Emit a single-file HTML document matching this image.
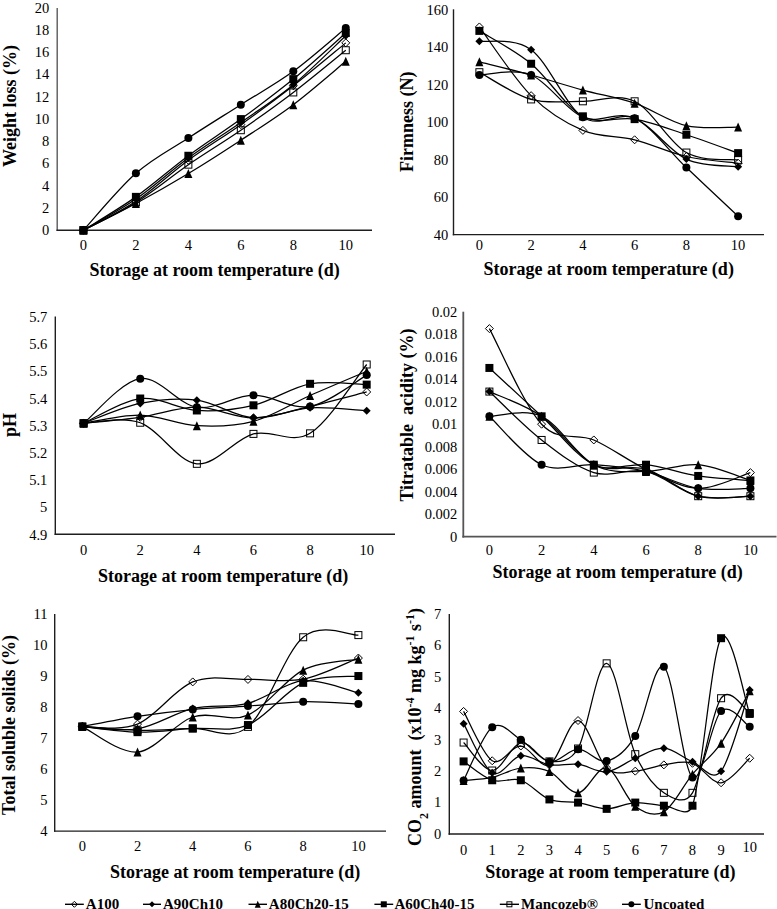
<!DOCTYPE html>
<html><head><meta charset="utf-8"><style>
html,body{margin:0;padding:0;background:#fff;}
svg{display:block;}
.tk{font-family:"Liberation Serif",serif;font-size:14.5px;fill:#000;}
.tt{font-family:"Liberation Serif",serif;font-size:18px;font-weight:bold;fill:#000;}
.lg{font-family:"Liberation Serif",serif;font-size:15px;font-weight:bold;fill:#000;}
</style></head><body>
<svg width="777" height="909" viewBox="0 0 777 909">
<rect width="777" height="909" fill="#fff"/>
<path d="M57.20,8.00 L57.20,230.90" fill="none" stroke="#5a5a5a" stroke-width="1.4"/><path d="M56.50,230.20 L372.00,230.20" fill="none" stroke="#1e1e1e" stroke-width="1.4"/>
<path d="M83.43,230.20 C92.18,225.39 118.41,212.98 135.90,201.31 C153.39,189.65 170.88,172.98 188.37,160.21 C205.86,147.43 223.34,137.06 240.83,124.66 C258.32,112.25 275.81,99.40 293.30,85.77 C310.79,72.14 337.02,50.03 345.77,42.89" fill="none" stroke="#000" stroke-width="1.25"/>
<path d="M83.43,230.20 C92.18,225.02 118.41,211.13 135.90,199.09 C153.39,187.06 170.88,170.76 188.37,157.98 C205.86,145.21 223.34,134.65 240.83,122.43 C258.32,110.21 275.81,99.10 293.30,84.66 C310.79,70.22 337.02,43.92 345.77,35.78" fill="none" stroke="#000" stroke-width="1.25"/>
<path d="M83.43,230.20 C92.18,225.76 118.41,212.98 135.90,203.54 C153.39,194.09 170.88,184.09 188.37,173.54 C205.86,162.98 223.34,151.69 240.83,140.21 C258.32,128.73 275.81,117.80 293.30,104.66 C310.79,91.51 337.02,68.55 345.77,61.33" fill="none" stroke="#000" stroke-width="1.25"/>
<path d="M83.43,230.20 C92.18,224.64 118.41,209.28 135.90,196.87 C153.39,184.46 170.88,168.72 188.37,155.76 C205.86,142.80 223.34,131.88 240.83,119.10 C258.32,106.32 275.81,93.45 293.30,79.10 C310.79,64.75 337.02,40.68 345.77,33.00" fill="none" stroke="#000" stroke-width="1.25"/>
<path d="M83.43,230.20 C92.18,225.57 118.41,213.35 135.90,202.42 C153.39,191.50 170.88,176.69 188.37,164.65 C205.86,152.62 223.34,142.25 240.83,130.21 C258.32,118.17 275.81,105.77 293.30,92.44 C310.79,79.10 337.02,57.25 345.77,50.22" fill="none" stroke="#000" stroke-width="1.25"/>
<path d="M83.43,230.20 C92.18,220.72 118.41,188.69 135.90,173.32 C153.39,157.95 170.88,149.43 188.37,137.99 C205.86,126.54 223.34,115.77 240.83,104.66 C258.32,93.55 275.81,84.10 293.30,71.33 C310.79,58.55 337.02,35.22 345.77,28.00" fill="none" stroke="#000" stroke-width="1.25"/>
<path d="M83.43,226.20 L87.43,230.20 L83.43,234.20 L79.43,230.20 Z" fill="none" stroke="#000" stroke-width="1"/>
<path d="M135.90,197.31 L139.90,201.31 L135.90,205.31 L131.90,201.31 Z" fill="none" stroke="#000" stroke-width="1"/>
<path d="M188.37,156.21 L192.37,160.21 L188.37,164.21 L184.37,160.21 Z" fill="none" stroke="#000" stroke-width="1"/>
<path d="M240.83,120.66 L244.83,124.66 L240.83,128.66 L236.83,124.66 Z" fill="none" stroke="#000" stroke-width="1"/>
<path d="M293.30,81.77 L297.30,85.77 L293.30,89.77 L289.30,85.77 Z" fill="none" stroke="#000" stroke-width="1"/>
<path d="M345.77,38.89 L349.77,42.89 L345.77,46.89 L341.77,42.89 Z" fill="none" stroke="#000" stroke-width="1"/>
<path d="M83.43,226.20 L87.43,230.20 L83.43,234.20 L79.43,230.20 Z" fill="#000"/>
<path d="M135.90,195.09 L139.90,199.09 L135.90,203.09 L131.90,199.09 Z" fill="#000"/>
<path d="M188.37,153.98 L192.37,157.98 L188.37,161.98 L184.37,157.98 Z" fill="#000"/>
<path d="M240.83,118.43 L244.83,122.43 L240.83,126.43 L236.83,122.43 Z" fill="#000"/>
<path d="M293.30,80.66 L297.30,84.66 L293.30,88.66 L289.30,84.66 Z" fill="#000"/>
<path d="M345.77,31.78 L349.77,35.78 L345.77,39.78 L341.77,35.78 Z" fill="#000"/>
<path d="M83.43,225.70 L87.43,234.70 L79.43,234.70 Z" fill="#000"/>
<path d="M135.90,199.04 L139.90,208.04 L131.90,208.04 Z" fill="#000"/>
<path d="M188.37,169.04 L192.37,178.04 L184.37,178.04 Z" fill="#000"/>
<path d="M240.83,135.71 L244.83,144.71 L236.83,144.71 Z" fill="#000"/>
<path d="M293.30,100.16 L297.30,109.16 L289.30,109.16 Z" fill="#000"/>
<path d="M345.77,56.83 L349.77,65.83 L341.77,65.83 Z" fill="#000"/>
<rect x="79.43" y="226.20" width="8.00" height="8.00" fill="#000"/>
<rect x="131.90" y="192.87" width="8.00" height="8.00" fill="#000"/>
<rect x="184.37" y="151.76" width="8.00" height="8.00" fill="#000"/>
<rect x="236.83" y="115.10" width="8.00" height="8.00" fill="#000"/>
<rect x="289.30" y="75.10" width="8.00" height="8.00" fill="#000"/>
<rect x="341.77" y="29.00" width="8.00" height="8.00" fill="#000"/>
<rect x="79.93" y="226.70" width="7.00" height="7.00" fill="none" stroke="#000" stroke-width="1"/>
<rect x="132.40" y="198.92" width="7.00" height="7.00" fill="none" stroke="#000" stroke-width="1"/>
<rect x="184.87" y="161.15" width="7.00" height="7.00" fill="none" stroke="#000" stroke-width="1"/>
<rect x="237.33" y="126.71" width="7.00" height="7.00" fill="none" stroke="#000" stroke-width="1"/>
<rect x="289.80" y="88.94" width="7.00" height="7.00" fill="none" stroke="#000" stroke-width="1"/>
<rect x="342.27" y="46.72" width="7.00" height="7.00" fill="none" stroke="#000" stroke-width="1"/>
<circle cx="83.43" cy="230.20" r="4.00" fill="#000"/>
<circle cx="135.90" cy="173.32" r="4.00" fill="#000"/>
<circle cx="188.37" cy="137.99" r="4.00" fill="#000"/>
<circle cx="240.83" cy="104.66" r="4.00" fill="#000"/>
<circle cx="293.30" cy="71.33" r="4.00" fill="#000"/>
<circle cx="345.77" cy="28.00" r="4.00" fill="#000"/>
<text x="49.20" y="235.00" text-anchor="end" class="tk">0</text>
<text x="49.20" y="212.78" text-anchor="end" class="tk">2</text>
<text x="49.20" y="190.56" text-anchor="end" class="tk">4</text>
<text x="49.20" y="168.34" text-anchor="end" class="tk">6</text>
<text x="49.20" y="146.12" text-anchor="end" class="tk">8</text>
<text x="49.20" y="123.90" text-anchor="end" class="tk">10</text>
<text x="49.20" y="101.68" text-anchor="end" class="tk">12</text>
<text x="49.20" y="79.46" text-anchor="end" class="tk">14</text>
<text x="49.20" y="57.24" text-anchor="end" class="tk">16</text>
<text x="49.20" y="35.02" text-anchor="end" class="tk">18</text>
<text x="49.20" y="12.80" text-anchor="end" class="tk">20</text>
<text x="83.43" y="249.70" text-anchor="middle" class="tk">0</text>
<text x="135.90" y="249.70" text-anchor="middle" class="tk">2</text>
<text x="188.37" y="249.70" text-anchor="middle" class="tk">4</text>
<text x="240.83" y="249.70" text-anchor="middle" class="tk">6</text>
<text x="293.30" y="249.70" text-anchor="middle" class="tk">8</text>
<text x="345.77" y="249.70" text-anchor="middle" class="tk">10</text>
<text x="214.60" y="275.50" text-anchor="middle" class="tt">Storage at room temperature (d)</text>
<text transform="translate(15.50,106.00) rotate(-90)" text-anchor="middle" class="tt">Weight loss (%)</text>
<path d="M453.50,9.30 L453.50,235.30" fill="none" stroke="#1e1e1e" stroke-width="1.4"/><path d="M452.80,234.60 L764.00,234.60" fill="none" stroke="#1e1e1e" stroke-width="1.4"/>
<path d="M479.38,26.95 C488.00,38.40 513.88,78.42 531.12,95.66 C548.38,112.91 565.62,123.05 582.88,130.40 C600.12,137.75 617.38,135.44 634.62,139.79 C651.88,144.14 669.12,152.58 686.38,156.50 C703.62,160.41 729.50,162.13 738.12,163.25" fill="none" stroke="#000" stroke-width="1.25"/>
<path d="M479.38,41.22 C488.00,42.63 513.88,36.99 531.12,49.67 C548.38,62.34 565.62,105.83 582.88,117.26 C600.12,128.68 617.38,111.22 634.62,118.19 C651.88,125.17 669.12,151.05 686.38,159.12 C703.62,167.20 729.50,165.38 738.12,166.63" fill="none" stroke="#000" stroke-width="1.25"/>
<path d="M479.38,61.87 C488.00,64.06 513.88,70.32 531.12,75.01 C548.38,79.71 565.62,85.34 582.88,90.03 C600.12,94.73 617.38,97.23 634.62,103.17 C651.88,109.12 669.12,121.73 686.38,125.70 C703.62,129.68 729.50,126.80 738.12,127.02" fill="none" stroke="#000" stroke-width="1.25"/>
<path d="M479.38,30.89 C488.00,36.37 513.88,49.51 531.12,63.75 C548.38,77.99 565.62,107.09 582.88,116.32 C600.12,125.55 617.38,116.07 634.62,119.13 C651.88,122.20 669.12,129.05 686.38,134.72 C703.62,140.38 729.50,150.05 738.12,153.12" fill="none" stroke="#000" stroke-width="1.25"/>
<path d="M479.38,72.20 C488.00,76.73 513.88,94.57 531.12,99.42 C548.38,104.27 565.62,100.98 582.88,101.30 C600.12,101.61 617.38,92.75 634.62,101.30 C651.88,109.84 669.12,142.79 686.38,152.55 C703.62,162.32 729.50,158.66 738.12,159.88" fill="none" stroke="#000" stroke-width="1.25"/>
<path d="M479.38,75.01 C488.00,75.01 513.88,67.97 531.12,75.01 C548.38,82.05 565.62,110.06 582.88,117.26 C600.12,124.45 617.38,109.81 634.62,118.19 C651.88,126.58 669.12,151.24 686.38,167.57 C703.62,183.91 729.50,208.10 738.12,216.20" fill="none" stroke="#000" stroke-width="1.25"/>
<path d="M479.38,22.95 L483.38,26.95 L479.38,30.95 L475.38,26.95 Z" fill="none" stroke="#000" stroke-width="1"/>
<path d="M531.12,91.66 L535.12,95.66 L531.12,99.66 L527.12,95.66 Z" fill="none" stroke="#000" stroke-width="1"/>
<path d="M582.88,126.40 L586.88,130.40 L582.88,134.40 L578.88,130.40 Z" fill="none" stroke="#000" stroke-width="1"/>
<path d="M634.62,135.79 L638.62,139.79 L634.62,143.79 L630.62,139.79 Z" fill="none" stroke="#000" stroke-width="1"/>
<path d="M686.38,152.50 L690.38,156.50 L686.38,160.50 L682.38,156.50 Z" fill="none" stroke="#000" stroke-width="1"/>
<path d="M738.12,159.25 L742.12,163.25 L738.12,167.25 L734.12,163.25 Z" fill="none" stroke="#000" stroke-width="1"/>
<path d="M479.38,37.22 L483.38,41.22 L479.38,45.22 L475.38,41.22 Z" fill="#000"/>
<path d="M531.12,45.67 L535.12,49.67 L531.12,53.67 L527.12,49.67 Z" fill="#000"/>
<path d="M582.88,113.26 L586.88,117.26 L582.88,121.26 L578.88,117.26 Z" fill="#000"/>
<path d="M634.62,114.19 L638.62,118.19 L634.62,122.19 L630.62,118.19 Z" fill="#000"/>
<path d="M686.38,155.12 L690.38,159.12 L686.38,163.12 L682.38,159.12 Z" fill="#000"/>
<path d="M738.12,162.63 L742.12,166.63 L738.12,170.63 L734.12,166.63 Z" fill="#000"/>
<path d="M479.38,57.37 L483.38,66.37 L475.38,66.37 Z" fill="#000"/>
<path d="M531.12,70.51 L535.12,79.51 L527.12,79.51 Z" fill="#000"/>
<path d="M582.88,85.53 L586.88,94.53 L578.88,94.53 Z" fill="#000"/>
<path d="M634.62,98.67 L638.62,107.67 L630.62,107.67 Z" fill="#000"/>
<path d="M686.38,121.20 L690.38,130.20 L682.38,130.20 Z" fill="#000"/>
<path d="M738.12,122.52 L742.12,131.52 L734.12,131.52 Z" fill="#000"/>
<rect x="475.38" y="26.89" width="8.00" height="8.00" fill="#000"/>
<rect x="527.12" y="59.75" width="8.00" height="8.00" fill="#000"/>
<rect x="578.88" y="112.32" width="8.00" height="8.00" fill="#000"/>
<rect x="630.62" y="115.13" width="8.00" height="8.00" fill="#000"/>
<rect x="682.38" y="130.72" width="8.00" height="8.00" fill="#000"/>
<rect x="734.12" y="149.12" width="8.00" height="8.00" fill="#000"/>
<rect x="475.88" y="68.70" width="7.00" height="7.00" fill="none" stroke="#000" stroke-width="1"/>
<rect x="527.62" y="95.92" width="7.00" height="7.00" fill="none" stroke="#000" stroke-width="1"/>
<rect x="579.38" y="97.80" width="7.00" height="7.00" fill="none" stroke="#000" stroke-width="1"/>
<rect x="631.12" y="97.80" width="7.00" height="7.00" fill="none" stroke="#000" stroke-width="1"/>
<rect x="682.88" y="149.05" width="7.00" height="7.00" fill="none" stroke="#000" stroke-width="1"/>
<rect x="734.62" y="156.38" width="7.00" height="7.00" fill="none" stroke="#000" stroke-width="1"/>
<circle cx="479.38" cy="75.01" r="4.00" fill="#000"/>
<circle cx="531.12" cy="75.01" r="4.00" fill="#000"/>
<circle cx="582.88" cy="117.26" r="4.00" fill="#000"/>
<circle cx="634.62" cy="118.19" r="4.00" fill="#000"/>
<circle cx="686.38" cy="167.57" r="4.00" fill="#000"/>
<circle cx="738.12" cy="216.20" r="4.00" fill="#000"/>
<text x="448.20" y="239.90" text-anchor="end" class="tk">40</text>
<text x="448.20" y="202.35" text-anchor="end" class="tk">60</text>
<text x="448.20" y="164.80" text-anchor="end" class="tk">80</text>
<text x="448.20" y="127.25" text-anchor="end" class="tk">100</text>
<text x="448.20" y="89.70" text-anchor="end" class="tk">120</text>
<text x="448.20" y="52.15" text-anchor="end" class="tk">140</text>
<text x="448.20" y="14.60" text-anchor="end" class="tk">160</text>
<text x="479.38" y="250.10" text-anchor="middle" class="tk">0</text>
<text x="531.12" y="250.10" text-anchor="middle" class="tk">2</text>
<text x="582.88" y="250.10" text-anchor="middle" class="tk">4</text>
<text x="634.62" y="250.10" text-anchor="middle" class="tk">6</text>
<text x="686.38" y="250.10" text-anchor="middle" class="tk">8</text>
<text x="738.12" y="250.10" text-anchor="middle" class="tk">10</text>
<text x="608.75" y="274.80" text-anchor="middle" class="tt">Storage at room temperature (d)</text>
<text transform="translate(413.00,121.70) rotate(-90)" text-anchor="middle" class="tt">Firmness (N)</text>
<path d="M55.30,316.60 L55.30,535.00" fill="none" stroke="#1e1e1e" stroke-width="1.4"/><path d="M54.60,534.30 L395.00,534.30" fill="none" stroke="#1e1e1e" stroke-width="1.4"/>
<path d="M83.61,423.27 C93.04,422.28 121.35,419.96 140.22,417.29 C159.10,414.61 177.97,407.13 196.84,407.22 C215.71,407.31 234.59,417.97 253.46,417.83 C272.33,417.69 291.20,410.71 310.07,406.40 C328.95,402.09 357.26,394.38 366.69,391.98" fill="none" stroke="#000" stroke-width="1.25"/>
<path d="M83.61,423.27 C93.04,419.96 121.35,407.26 140.22,403.41 C159.10,399.55 177.97,397.74 196.84,400.14 C215.71,402.55 234.59,416.56 253.46,417.83 C272.33,419.10 291.20,408.94 310.07,407.76 C328.95,406.58 357.26,410.26 366.69,410.76" fill="none" stroke="#000" stroke-width="1.25"/>
<path d="M83.61,423.27 C93.04,421.91 121.35,414.70 140.22,415.11 C159.10,415.52 177.97,424.68 196.84,425.72 C215.71,426.77 234.59,426.40 253.46,421.37 C272.33,416.33 291.20,403.86 310.07,395.52 C328.95,387.17 357.26,375.33 366.69,371.30" fill="none" stroke="#000" stroke-width="1.25"/>
<path d="M83.61,423.27 C93.04,419.15 121.35,400.64 140.22,398.51 C159.10,396.38 177.97,409.35 196.84,410.48 C215.71,411.62 234.59,409.76 253.46,405.31 C272.33,400.87 291.20,387.26 310.07,383.81 C328.95,380.37 357.26,384.50 366.69,384.63" fill="none" stroke="#000" stroke-width="1.25"/>
<path d="M83.61,423.27 C93.04,423.18 121.35,415.97 140.22,422.73 C159.10,429.49 177.97,461.96 196.84,463.82 C215.71,465.68 234.59,438.97 253.46,433.89 C272.33,428.81 291.20,444.91 310.07,433.34 C328.95,421.78 357.26,375.97 366.69,364.49" fill="none" stroke="#000" stroke-width="1.25"/>
<path d="M83.61,423.27 C93.04,415.83 121.35,381.32 140.22,378.64 C159.10,375.97 177.97,404.45 196.84,407.22 C215.71,409.98 234.59,395.38 253.46,395.24 C272.33,395.11 291.20,409.76 310.07,406.40 C328.95,403.05 357.26,380.32 366.69,375.11" fill="none" stroke="#000" stroke-width="1.25"/>
<path d="M83.61,419.27 L87.61,423.27 L83.61,427.27 L79.61,423.27 Z" fill="none" stroke="#000" stroke-width="1"/>
<path d="M140.22,413.29 L144.22,417.29 L140.22,421.29 L136.22,417.29 Z" fill="none" stroke="#000" stroke-width="1"/>
<path d="M196.84,403.22 L200.84,407.22 L196.84,411.22 L192.84,407.22 Z" fill="none" stroke="#000" stroke-width="1"/>
<path d="M253.46,413.83 L257.46,417.83 L253.46,421.83 L249.46,417.83 Z" fill="none" stroke="#000" stroke-width="1"/>
<path d="M310.07,402.40 L314.07,406.40 L310.07,410.40 L306.07,406.40 Z" fill="none" stroke="#000" stroke-width="1"/>
<path d="M366.69,387.98 L370.69,391.98 L366.69,395.98 L362.69,391.98 Z" fill="none" stroke="#000" stroke-width="1"/>
<path d="M83.61,419.27 L87.61,423.27 L83.61,427.27 L79.61,423.27 Z" fill="#000"/>
<path d="M140.22,399.41 L144.22,403.41 L140.22,407.41 L136.22,403.41 Z" fill="#000"/>
<path d="M196.84,396.14 L200.84,400.14 L196.84,404.14 L192.84,400.14 Z" fill="#000"/>
<path d="M253.46,413.83 L257.46,417.83 L253.46,421.83 L249.46,417.83 Z" fill="#000"/>
<path d="M310.07,403.76 L314.07,407.76 L310.07,411.76 L306.07,407.76 Z" fill="#000"/>
<path d="M366.69,406.76 L370.69,410.76 L366.69,414.76 L362.69,410.76 Z" fill="#000"/>
<path d="M83.61,418.77 L87.61,427.77 L79.61,427.77 Z" fill="#000"/>
<path d="M140.22,410.61 L144.22,419.61 L136.22,419.61 Z" fill="#000"/>
<path d="M196.84,421.22 L200.84,430.22 L192.84,430.22 Z" fill="#000"/>
<path d="M253.46,416.87 L257.46,425.87 L249.46,425.87 Z" fill="#000"/>
<path d="M310.07,391.02 L314.07,400.02 L306.07,400.02 Z" fill="#000"/>
<path d="M366.69,366.80 L370.69,375.80 L362.69,375.80 Z" fill="#000"/>
<rect x="79.61" y="419.27" width="8.00" height="8.00" fill="#000"/>
<rect x="136.22" y="394.51" width="8.00" height="8.00" fill="#000"/>
<rect x="192.84" y="406.48" width="8.00" height="8.00" fill="#000"/>
<rect x="249.46" y="401.31" width="8.00" height="8.00" fill="#000"/>
<rect x="306.07" y="379.81" width="8.00" height="8.00" fill="#000"/>
<rect x="362.69" y="380.63" width="8.00" height="8.00" fill="#000"/>
<rect x="80.11" y="419.77" width="7.00" height="7.00" fill="none" stroke="#000" stroke-width="1"/>
<rect x="136.72" y="419.23" width="7.00" height="7.00" fill="none" stroke="#000" stroke-width="1"/>
<rect x="193.34" y="460.32" width="7.00" height="7.00" fill="none" stroke="#000" stroke-width="1"/>
<rect x="249.96" y="430.39" width="7.00" height="7.00" fill="none" stroke="#000" stroke-width="1"/>
<rect x="306.57" y="429.84" width="7.00" height="7.00" fill="none" stroke="#000" stroke-width="1"/>
<rect x="363.19" y="360.99" width="7.00" height="7.00" fill="none" stroke="#000" stroke-width="1"/>
<circle cx="83.61" cy="423.27" r="4.00" fill="#000"/>
<circle cx="140.22" cy="378.64" r="4.00" fill="#000"/>
<circle cx="196.84" cy="407.22" r="4.00" fill="#000"/>
<circle cx="253.46" cy="395.24" r="4.00" fill="#000"/>
<circle cx="310.07" cy="406.40" r="4.00" fill="#000"/>
<circle cx="366.69" cy="375.11" r="4.00" fill="#000"/>
<text x="47.30" y="539.60" text-anchor="end" class="tk">4.9</text>
<text x="47.30" y="512.39" text-anchor="end" class="tk">5</text>
<text x="47.30" y="485.17" text-anchor="end" class="tk">5.1</text>
<text x="47.30" y="457.96" text-anchor="end" class="tk">5.2</text>
<text x="47.30" y="430.75" text-anchor="end" class="tk">5.3</text>
<text x="47.30" y="403.54" text-anchor="end" class="tk">5.4</text>
<text x="47.30" y="376.33" text-anchor="end" class="tk">5.5</text>
<text x="47.30" y="349.11" text-anchor="end" class="tk">5.6</text>
<text x="47.30" y="321.90" text-anchor="end" class="tk">5.7</text>
<text x="83.61" y="554.60" text-anchor="middle" class="tk">0</text>
<text x="140.22" y="554.60" text-anchor="middle" class="tk">2</text>
<text x="196.84" y="554.60" text-anchor="middle" class="tk">4</text>
<text x="253.46" y="554.60" text-anchor="middle" class="tk">6</text>
<text x="310.07" y="554.60" text-anchor="middle" class="tk">8</text>
<text x="366.69" y="554.60" text-anchor="middle" class="tk">10</text>
<text x="223.15" y="582.00" text-anchor="middle" class="tt">Storage at room temperature (d)</text>
<text transform="translate(15.50,425.00) rotate(-90)" text-anchor="middle" class="tt">pH</text>
<path d="M463.30,311.70 L463.30,537.60" fill="none" stroke="#555" stroke-width="1.8"/><path d="M462.40,536.70 L776.50,536.70" fill="none" stroke="#555" stroke-width="1.8"/>
<path d="M489.40,328.58 C498.10,344.51 524.20,405.64 541.60,424.20 C559.00,442.76 576.40,432.45 593.80,439.95 C611.20,447.45 628.60,461.14 646.00,469.20 C663.40,477.26 680.80,487.76 698.20,488.33 C715.60,488.89 741.70,475.20 750.40,472.58" fill="none" stroke="#000" stroke-width="1.25"/>
<path d="M489.40,391.58 C498.10,395.70 524.20,404.14 541.60,416.33 C559.00,428.51 576.40,455.89 593.80,464.70 C611.20,473.51 628.60,463.95 646.00,469.20 C663.40,474.45 680.80,491.70 698.20,496.20 C715.60,500.70 741.70,496.20 750.40,496.20" fill="none" stroke="#000" stroke-width="1.25"/>
<path d="M489.40,416.33 C498.10,416.33 524.20,408.26 541.60,416.33 C559.00,424.39 576.40,455.51 593.80,464.70 C611.20,473.89 628.60,471.45 646.00,471.45 C663.40,471.45 680.80,463.20 698.20,464.70 C715.60,466.20 741.70,477.83 750.40,480.45" fill="none" stroke="#000" stroke-width="1.25"/>
<path d="M489.40,367.95 C498.10,376.01 524.20,400.20 541.60,416.33 C559.00,432.45 576.40,456.64 593.80,464.70 C611.20,472.76 628.60,462.83 646.00,464.70 C663.40,466.58 680.80,473.33 698.20,475.95 C715.60,478.58 741.70,479.70 750.40,480.45" fill="none" stroke="#000" stroke-width="1.25"/>
<path d="M489.40,391.58 C498.10,399.64 524.20,426.45 541.60,439.95 C559.00,453.45 576.40,467.33 593.80,472.58 C611.20,477.83 628.60,467.51 646.00,471.45 C663.40,475.39 680.80,492.08 698.20,496.20 C715.60,500.33 741.70,496.20 750.40,496.20" fill="none" stroke="#000" stroke-width="1.25"/>
<path d="M489.40,416.33 C498.10,424.39 524.20,456.64 541.60,464.70 C559.00,472.76 576.40,463.58 593.80,464.70 C611.20,465.83 628.60,467.51 646.00,471.45 C663.40,475.39 680.80,485.51 698.20,488.33 C715.60,491.14 741.70,488.33 750.40,488.33" fill="none" stroke="#000" stroke-width="1.25"/>
<path d="M489.40,324.58 L493.40,328.58 L489.40,332.58 L485.40,328.58 Z" fill="none" stroke="#000" stroke-width="1"/>
<path d="M541.60,420.20 L545.60,424.20 L541.60,428.20 L537.60,424.20 Z" fill="none" stroke="#000" stroke-width="1"/>
<path d="M593.80,435.95 L597.80,439.95 L593.80,443.95 L589.80,439.95 Z" fill="none" stroke="#000" stroke-width="1"/>
<path d="M646.00,465.20 L650.00,469.20 L646.00,473.20 L642.00,469.20 Z" fill="none" stroke="#000" stroke-width="1"/>
<path d="M698.20,484.33 L702.20,488.33 L698.20,492.33 L694.20,488.33 Z" fill="none" stroke="#000" stroke-width="1"/>
<path d="M750.40,468.58 L754.40,472.58 L750.40,476.58 L746.40,472.58 Z" fill="none" stroke="#000" stroke-width="1"/>
<path d="M489.40,387.58 L493.40,391.58 L489.40,395.58 L485.40,391.58 Z" fill="#000"/>
<path d="M541.60,412.33 L545.60,416.33 L541.60,420.33 L537.60,416.33 Z" fill="#000"/>
<path d="M593.80,460.70 L597.80,464.70 L593.80,468.70 L589.80,464.70 Z" fill="#000"/>
<path d="M646.00,465.20 L650.00,469.20 L646.00,473.20 L642.00,469.20 Z" fill="#000"/>
<path d="M698.20,492.20 L702.20,496.20 L698.20,500.20 L694.20,496.20 Z" fill="#000"/>
<path d="M750.40,492.20 L754.40,496.20 L750.40,500.20 L746.40,496.20 Z" fill="#000"/>
<path d="M489.40,411.83 L493.40,420.83 L485.40,420.83 Z" fill="#000"/>
<path d="M541.60,411.83 L545.60,420.83 L537.60,420.83 Z" fill="#000"/>
<path d="M593.80,460.20 L597.80,469.20 L589.80,469.20 Z" fill="#000"/>
<path d="M646.00,466.95 L650.00,475.95 L642.00,475.95 Z" fill="#000"/>
<path d="M698.20,460.20 L702.20,469.20 L694.20,469.20 Z" fill="#000"/>
<path d="M750.40,475.95 L754.40,484.95 L746.40,484.95 Z" fill="#000"/>
<rect x="485.40" y="363.95" width="8.00" height="8.00" fill="#000"/>
<rect x="537.60" y="412.33" width="8.00" height="8.00" fill="#000"/>
<rect x="589.80" y="460.70" width="8.00" height="8.00" fill="#000"/>
<rect x="642.00" y="460.70" width="8.00" height="8.00" fill="#000"/>
<rect x="694.20" y="471.95" width="8.00" height="8.00" fill="#000"/>
<rect x="746.40" y="476.45" width="8.00" height="8.00" fill="#000"/>
<rect x="485.90" y="388.08" width="7.00" height="7.00" fill="none" stroke="#000" stroke-width="1"/>
<rect x="538.10" y="436.45" width="7.00" height="7.00" fill="none" stroke="#000" stroke-width="1"/>
<rect x="590.30" y="469.08" width="7.00" height="7.00" fill="none" stroke="#000" stroke-width="1"/>
<rect x="642.50" y="467.95" width="7.00" height="7.00" fill="none" stroke="#000" stroke-width="1"/>
<rect x="694.70" y="492.70" width="7.00" height="7.00" fill="none" stroke="#000" stroke-width="1"/>
<rect x="746.90" y="492.70" width="7.00" height="7.00" fill="none" stroke="#000" stroke-width="1"/>
<circle cx="489.40" cy="416.33" r="4.00" fill="#000"/>
<circle cx="541.60" cy="464.70" r="4.00" fill="#000"/>
<circle cx="593.80" cy="464.70" r="4.00" fill="#000"/>
<circle cx="646.00" cy="471.45" r="4.00" fill="#000"/>
<circle cx="698.20" cy="488.33" r="4.00" fill="#000"/>
<circle cx="750.40" cy="488.33" r="4.00" fill="#000"/>
<text x="457.30" y="541.50" text-anchor="end" class="tk">0</text>
<text x="457.30" y="519.00" text-anchor="end" class="tk">0.002</text>
<text x="457.30" y="496.50" text-anchor="end" class="tk">0.004</text>
<text x="457.30" y="474.00" text-anchor="end" class="tk">0.006</text>
<text x="457.30" y="451.50" text-anchor="end" class="tk">0.008</text>
<text x="457.30" y="429.00" text-anchor="end" class="tk">0.01</text>
<text x="457.30" y="406.50" text-anchor="end" class="tk">0.012</text>
<text x="457.30" y="384.00" text-anchor="end" class="tk">0.014</text>
<text x="457.30" y="361.50" text-anchor="end" class="tk">0.016</text>
<text x="457.30" y="339.00" text-anchor="end" class="tk">0.018</text>
<text x="457.30" y="316.50" text-anchor="end" class="tk">0.02</text>
<text x="489.40" y="554.50" text-anchor="middle" class="tk">0</text>
<text x="541.60" y="554.50" text-anchor="middle" class="tk">2</text>
<text x="593.80" y="554.50" text-anchor="middle" class="tk">4</text>
<text x="646.00" y="554.50" text-anchor="middle" class="tk">6</text>
<text x="698.20" y="554.50" text-anchor="middle" class="tk">8</text>
<text x="750.40" y="554.50" text-anchor="middle" class="tk">10</text>
<text x="617.60" y="578.20" text-anchor="middle" class="tt">Storage at room temperature (d)</text>
<text transform="translate(413.00,415.00) rotate(-90)" text-anchor="middle" class="tt">Titratable&#160; acidity (%)</text>
<path d="M54.70,614.00 L54.70,831.80" fill="none" stroke="#1e1e1e" stroke-width="1.4"/><path d="M54.00,831.10 L386.00,831.10" fill="none" stroke="#1e1e1e" stroke-width="1.4"/>
<path d="M82.31,726.58 C91.51,726.17 119.12,731.54 137.53,724.10 C155.93,716.66 174.34,689.36 192.74,681.92 C211.15,674.48 229.55,679.91 247.96,679.44 C266.36,678.97 284.77,682.70 303.18,679.13 C321.58,675.56 349.19,661.56 358.39,658.04" fill="none" stroke="#000" stroke-width="1.25"/>
<path d="M82.31,726.58 C91.51,726.94 119.12,731.75 137.53,728.75 C155.93,725.75 174.34,712.83 192.74,708.59 C211.15,704.35 229.55,707.97 247.96,703.32 C266.36,698.67 284.77,682.44 303.18,680.68 C321.58,678.92 349.19,690.76 358.39,692.78" fill="none" stroke="#000" stroke-width="1.25"/>
<path d="M82.31,726.58 C91.51,730.82 119.12,753.62 137.53,752.01 C155.93,750.41 174.34,723.12 192.74,716.97 C211.15,710.82 229.55,722.91 247.96,715.11 C266.36,707.30 284.77,679.44 303.18,670.14 C321.58,660.83 349.19,661.09 358.39,659.28" fill="none" stroke="#000" stroke-width="1.25"/>
<path d="M82.31,726.58 C91.51,727.51 119.12,731.85 137.53,732.16 C155.93,732.47 174.34,729.63 192.74,728.44 C211.15,727.25 229.55,732.63 247.96,725.03 C266.36,717.43 284.77,691.02 303.18,682.85 C321.58,674.68 349.19,677.17 358.39,676.03" fill="none" stroke="#000" stroke-width="1.25"/>
<path d="M82.31,726.58 C91.51,727.20 119.12,729.99 137.53,730.30 C155.93,730.61 174.34,729.01 192.74,728.44 C211.15,727.87 229.55,742.09 247.96,726.89 C266.36,711.70 284.77,652.56 303.18,637.26 C321.58,621.96 349.19,635.45 358.39,635.09" fill="none" stroke="#000" stroke-width="1.25"/>
<path d="M82.31,726.58 C91.51,724.88 119.12,719.19 137.53,716.35 C155.93,713.50 174.34,711.23 192.74,709.52 C211.15,707.82 229.55,707.40 247.96,706.11 C266.36,704.82 284.77,702.13 303.18,701.77 C321.58,701.41 349.19,703.58 358.39,703.94" fill="none" stroke="#000" stroke-width="1.25"/>
<path d="M82.31,722.58 L86.31,726.58 L82.31,730.58 L78.31,726.58 Z" fill="none" stroke="#000" stroke-width="1"/>
<path d="M137.53,720.10 L141.53,724.10 L137.53,728.10 L133.53,724.10 Z" fill="none" stroke="#000" stroke-width="1"/>
<path d="M192.74,677.92 L196.74,681.92 L192.74,685.92 L188.74,681.92 Z" fill="none" stroke="#000" stroke-width="1"/>
<path d="M247.96,675.44 L251.96,679.44 L247.96,683.44 L243.96,679.44 Z" fill="none" stroke="#000" stroke-width="1"/>
<path d="M303.18,675.13 L307.18,679.13 L303.18,683.13 L299.18,679.13 Z" fill="none" stroke="#000" stroke-width="1"/>
<path d="M358.39,654.04 L362.39,658.04 L358.39,662.04 L354.39,658.04 Z" fill="none" stroke="#000" stroke-width="1"/>
<path d="M82.31,722.58 L86.31,726.58 L82.31,730.58 L78.31,726.58 Z" fill="#000"/>
<path d="M137.53,724.75 L141.53,728.75 L137.53,732.75 L133.53,728.75 Z" fill="#000"/>
<path d="M192.74,704.59 L196.74,708.59 L192.74,712.59 L188.74,708.59 Z" fill="#000"/>
<path d="M247.96,699.32 L251.96,703.32 L247.96,707.32 L243.96,703.32 Z" fill="#000"/>
<path d="M303.18,676.68 L307.18,680.68 L303.18,684.68 L299.18,680.68 Z" fill="#000"/>
<path d="M358.39,688.78 L362.39,692.78 L358.39,696.78 L354.39,692.78 Z" fill="#000"/>
<path d="M82.31,722.08 L86.31,731.08 L78.31,731.08 Z" fill="#000"/>
<path d="M137.53,747.51 L141.53,756.51 L133.53,756.51 Z" fill="#000"/>
<path d="M192.74,712.47 L196.74,721.47 L188.74,721.47 Z" fill="#000"/>
<path d="M247.96,710.61 L251.96,719.61 L243.96,719.61 Z" fill="#000"/>
<path d="M303.18,665.64 L307.18,674.64 L299.18,674.64 Z" fill="#000"/>
<path d="M358.39,654.78 L362.39,663.78 L354.39,663.78 Z" fill="#000"/>
<rect x="78.31" y="722.58" width="8.00" height="8.00" fill="#000"/>
<rect x="133.53" y="728.16" width="8.00" height="8.00" fill="#000"/>
<rect x="188.74" y="724.44" width="8.00" height="8.00" fill="#000"/>
<rect x="243.96" y="721.03" width="8.00" height="8.00" fill="#000"/>
<rect x="299.18" y="678.85" width="8.00" height="8.00" fill="#000"/>
<rect x="354.39" y="672.03" width="8.00" height="8.00" fill="#000"/>
<rect x="78.81" y="723.08" width="7.00" height="7.00" fill="none" stroke="#000" stroke-width="1"/>
<rect x="134.03" y="726.80" width="7.00" height="7.00" fill="none" stroke="#000" stroke-width="1"/>
<rect x="189.24" y="724.94" width="7.00" height="7.00" fill="none" stroke="#000" stroke-width="1"/>
<rect x="244.46" y="723.39" width="7.00" height="7.00" fill="none" stroke="#000" stroke-width="1"/>
<rect x="299.68" y="633.76" width="7.00" height="7.00" fill="none" stroke="#000" stroke-width="1"/>
<rect x="354.89" y="631.59" width="7.00" height="7.00" fill="none" stroke="#000" stroke-width="1"/>
<circle cx="82.31" cy="726.58" r="4.00" fill="#000"/>
<circle cx="137.53" cy="716.35" r="4.00" fill="#000"/>
<circle cx="192.74" cy="709.52" r="4.00" fill="#000"/>
<circle cx="247.96" cy="706.11" r="4.00" fill="#000"/>
<circle cx="303.18" cy="701.77" r="4.00" fill="#000"/>
<circle cx="358.39" cy="703.94" r="4.00" fill="#000"/>
<text x="47.40" y="835.90" text-anchor="end" class="tk">4</text>
<text x="47.40" y="804.89" text-anchor="end" class="tk">5</text>
<text x="47.40" y="773.87" text-anchor="end" class="tk">6</text>
<text x="47.40" y="742.86" text-anchor="end" class="tk">7</text>
<text x="47.40" y="711.84" text-anchor="end" class="tk">8</text>
<text x="47.40" y="680.83" text-anchor="end" class="tk">9</text>
<text x="47.40" y="649.81" text-anchor="end" class="tk">10</text>
<text x="47.40" y="618.80" text-anchor="end" class="tk">11</text>
<text x="82.31" y="851.10" text-anchor="middle" class="tk">0</text>
<text x="137.53" y="851.10" text-anchor="middle" class="tk">2</text>
<text x="192.74" y="851.10" text-anchor="middle" class="tk">4</text>
<text x="247.96" y="851.10" text-anchor="middle" class="tk">6</text>
<text x="303.18" y="851.10" text-anchor="middle" class="tk">8</text>
<text x="358.39" y="851.10" text-anchor="middle" class="tk">10</text>
<text x="235.15" y="877.60" text-anchor="middle" class="tt">Storage at room temperature (d)</text>
<text transform="translate(15.20,725.00) rotate(-90)" text-anchor="middle" class="tt">Total soluble solids (%)</text>
<path d="M449.30,614.00 L449.30,834.70" fill="none" stroke="#1e1e1e" stroke-width="1.4"/><path d="M448.60,834.00 L764.00,834.00" fill="none" stroke="#1e1e1e" stroke-width="1.4"/>
<path d="M463.60,711.43 C468.37,719.65 482.68,755.01 492.21,760.77 C501.75,766.53 511.29,745.32 520.82,746.00 C530.36,746.68 539.90,769.10 549.43,764.86 C558.97,760.61 568.50,720.02 578.04,720.54 C587.58,721.07 597.11,759.57 606.65,768.00 C616.19,776.43 625.72,771.67 635.26,771.14 C644.80,770.62 654.33,766.17 663.87,764.86 C673.40,763.55 682.94,760.30 692.48,763.29 C702.01,766.27 711.55,783.61 721.09,782.77 C730.62,781.93 744.93,762.34 749.70,758.26" fill="none" stroke="#000" stroke-width="1.25"/>
<path d="M463.60,723.69 C468.37,731.86 482.68,767.37 492.21,772.71 C501.75,778.06 511.29,757.05 520.82,755.74 C530.36,754.43 539.90,763.44 549.43,764.86 C558.97,766.27 568.50,763.08 578.04,764.23 C587.58,765.38 597.11,772.77 606.65,771.77 C616.19,770.78 625.72,762.19 635.26,758.26 C644.80,754.33 654.33,747.62 663.87,748.20 C673.40,748.78 682.94,757.89 692.48,761.71 C702.01,765.54 711.69,782.91 721.09,771.14 C730.62,759.20 744.93,703.57 749.70,690.06" fill="none" stroke="#000" stroke-width="1.25"/>
<path d="M463.60,780.57 C468.37,780.05 482.68,779.52 492.21,777.43 C501.75,775.33 511.29,769.00 520.82,768.00 C530.36,767.00 539.90,767.32 549.43,771.46 C558.97,775.60 568.50,793.40 578.04,792.83 C587.58,792.25 597.11,765.75 606.65,768.00 C616.19,770.25 625.72,799.06 635.26,806.34 C644.80,813.62 654.33,817.03 663.87,811.69 C673.40,806.34 682.94,785.70 692.48,774.29 C702.01,762.87 711.55,757.10 721.09,743.17 C730.62,729.24 744.93,699.43 749.70,690.69" fill="none" stroke="#000" stroke-width="1.25"/>
<path d="M463.60,761.40 C468.37,764.54 482.68,777.11 492.21,780.26 C501.75,783.40 511.29,777.06 520.82,780.26 C530.36,783.45 539.90,795.71 549.43,799.43 C558.97,803.15 568.50,801.00 578.04,802.57 C587.58,804.14 597.11,808.86 606.65,808.86 C616.19,808.86 625.72,803.10 635.26,802.57 C644.80,802.05 654.33,805.19 663.87,805.71 C673.40,806.24 687.85,819.25 692.48,805.71 C702.01,777.80 711.55,653.50 721.09,638.20 C730.62,622.90 744.93,701.32 749.70,713.94" fill="none" stroke="#000" stroke-width="1.25"/>
<path d="M463.60,742.54 C468.37,747.20 482.68,770.46 492.21,770.51 C501.75,770.57 511.29,744.38 520.82,742.86 C530.36,741.34 539.90,760.46 549.43,761.40 C558.97,762.34 570.13,762.06 578.04,748.51 C587.58,732.17 597.11,662.40 606.65,663.34 C616.19,664.29 625.72,732.59 635.26,754.17 C644.80,775.75 654.33,786.39 663.87,792.83 C673.40,799.27 685.07,805.07 692.48,792.83 C702.01,777.06 711.55,711.53 721.09,698.23 C730.47,685.14 744.93,710.54 749.70,713.00" fill="none" stroke="#000" stroke-width="1.25"/>
<path d="M463.60,780.57 C468.37,771.67 482.68,733.95 492.21,727.14 C501.75,720.33 511.29,733.95 520.82,739.71 C530.36,745.48 539.90,760.14 549.43,761.71 C558.97,763.29 568.50,749.25 578.04,749.14 C587.58,749.04 597.11,763.29 606.65,761.09 C616.19,758.89 625.72,751.66 635.26,735.94 C644.80,720.23 654.33,659.89 663.87,666.80 C673.40,673.71 682.94,770.04 692.48,777.43 C702.01,784.81 711.55,719.55 721.09,711.11 C730.62,702.68 744.93,724.21 749.70,726.83" fill="none" stroke="#000" stroke-width="1.25"/>
<path d="M463.60,707.43 L467.60,711.43 L463.60,715.43 L459.60,711.43 Z" fill="none" stroke="#000" stroke-width="1"/>
<path d="M492.21,756.77 L496.21,760.77 L492.21,764.77 L488.21,760.77 Z" fill="none" stroke="#000" stroke-width="1"/>
<path d="M520.82,742.00 L524.82,746.00 L520.82,750.00 L516.82,746.00 Z" fill="none" stroke="#000" stroke-width="1"/>
<path d="M549.43,760.86 L553.43,764.86 L549.43,768.86 L545.43,764.86 Z" fill="none" stroke="#000" stroke-width="1"/>
<path d="M578.04,716.54 L582.04,720.54 L578.04,724.54 L574.04,720.54 Z" fill="none" stroke="#000" stroke-width="1"/>
<path d="M606.65,764.00 L610.65,768.00 L606.65,772.00 L602.65,768.00 Z" fill="none" stroke="#000" stroke-width="1"/>
<path d="M635.26,767.14 L639.26,771.14 L635.26,775.14 L631.26,771.14 Z" fill="none" stroke="#000" stroke-width="1"/>
<path d="M663.87,760.86 L667.87,764.86 L663.87,768.86 L659.87,764.86 Z" fill="none" stroke="#000" stroke-width="1"/>
<path d="M692.48,759.29 L696.48,763.29 L692.48,767.29 L688.48,763.29 Z" fill="none" stroke="#000" stroke-width="1"/>
<path d="M721.09,778.77 L725.09,782.77 L721.09,786.77 L717.09,782.77 Z" fill="none" stroke="#000" stroke-width="1"/>
<path d="M749.70,754.26 L753.70,758.26 L749.70,762.26 L745.70,758.26 Z" fill="none" stroke="#000" stroke-width="1"/>
<path d="M463.60,719.69 L467.60,723.69 L463.60,727.69 L459.60,723.69 Z" fill="#000"/>
<path d="M492.21,768.71 L496.21,772.71 L492.21,776.71 L488.21,772.71 Z" fill="#000"/>
<path d="M520.82,751.74 L524.82,755.74 L520.82,759.74 L516.82,755.74 Z" fill="#000"/>
<path d="M549.43,760.86 L553.43,764.86 L549.43,768.86 L545.43,764.86 Z" fill="#000"/>
<path d="M578.04,760.23 L582.04,764.23 L578.04,768.23 L574.04,764.23 Z" fill="#000"/>
<path d="M606.65,767.77 L610.65,771.77 L606.65,775.77 L602.65,771.77 Z" fill="#000"/>
<path d="M635.26,754.26 L639.26,758.26 L635.26,762.26 L631.26,758.26 Z" fill="#000"/>
<path d="M663.87,744.20 L667.87,748.20 L663.87,752.20 L659.87,748.20 Z" fill="#000"/>
<path d="M692.48,757.71 L696.48,761.71 L692.48,765.71 L688.48,761.71 Z" fill="#000"/>
<path d="M721.09,767.14 L725.09,771.14 L721.09,775.14 L717.09,771.14 Z" fill="#000"/>
<path d="M749.70,686.06 L753.70,690.06 L749.70,694.06 L745.70,690.06 Z" fill="#000"/>
<path d="M463.60,776.07 L467.60,785.07 L459.60,785.07 Z" fill="#000"/>
<path d="M492.21,772.93 L496.21,781.93 L488.21,781.93 Z" fill="#000"/>
<path d="M520.82,763.50 L524.82,772.50 L516.82,772.50 Z" fill="#000"/>
<path d="M549.43,766.96 L553.43,775.96 L545.43,775.96 Z" fill="#000"/>
<path d="M578.04,788.33 L582.04,797.33 L574.04,797.33 Z" fill="#000"/>
<path d="M606.65,763.50 L610.65,772.50 L602.65,772.50 Z" fill="#000"/>
<path d="M635.26,801.84 L639.26,810.84 L631.26,810.84 Z" fill="#000"/>
<path d="M663.87,807.19 L667.87,816.19 L659.87,816.19 Z" fill="#000"/>
<path d="M692.48,769.79 L696.48,778.79 L688.48,778.79 Z" fill="#000"/>
<path d="M721.09,738.67 L725.09,747.67 L717.09,747.67 Z" fill="#000"/>
<path d="M749.70,686.19 L753.70,695.19 L745.70,695.19 Z" fill="#000"/>
<rect x="459.60" y="757.40" width="8.00" height="8.00" fill="#000"/>
<rect x="488.21" y="776.26" width="8.00" height="8.00" fill="#000"/>
<rect x="516.82" y="776.26" width="8.00" height="8.00" fill="#000"/>
<rect x="545.43" y="795.43" width="8.00" height="8.00" fill="#000"/>
<rect x="574.04" y="798.57" width="8.00" height="8.00" fill="#000"/>
<rect x="602.65" y="804.86" width="8.00" height="8.00" fill="#000"/>
<rect x="631.26" y="798.57" width="8.00" height="8.00" fill="#000"/>
<rect x="659.87" y="801.71" width="8.00" height="8.00" fill="#000"/>
<rect x="688.48" y="801.71" width="8.00" height="8.00" fill="#000"/>
<rect x="717.09" y="634.20" width="8.00" height="8.00" fill="#000"/>
<rect x="745.70" y="709.94" width="8.00" height="8.00" fill="#000"/>
<rect x="460.10" y="739.04" width="7.00" height="7.00" fill="none" stroke="#000" stroke-width="1"/>
<rect x="488.71" y="767.01" width="7.00" height="7.00" fill="none" stroke="#000" stroke-width="1"/>
<rect x="517.32" y="739.36" width="7.00" height="7.00" fill="none" stroke="#000" stroke-width="1"/>
<rect x="545.93" y="757.90" width="7.00" height="7.00" fill="none" stroke="#000" stroke-width="1"/>
<rect x="574.54" y="745.01" width="7.00" height="7.00" fill="none" stroke="#000" stroke-width="1"/>
<rect x="603.15" y="659.84" width="7.00" height="7.00" fill="none" stroke="#000" stroke-width="1"/>
<rect x="631.76" y="750.67" width="7.00" height="7.00" fill="none" stroke="#000" stroke-width="1"/>
<rect x="660.37" y="789.33" width="7.00" height="7.00" fill="none" stroke="#000" stroke-width="1"/>
<rect x="688.98" y="789.33" width="7.00" height="7.00" fill="none" stroke="#000" stroke-width="1"/>
<rect x="717.59" y="694.73" width="7.00" height="7.00" fill="none" stroke="#000" stroke-width="1"/>
<rect x="746.20" y="709.50" width="7.00" height="7.00" fill="none" stroke="#000" stroke-width="1"/>
<circle cx="463.60" cy="780.57" r="4.00" fill="#000"/>
<circle cx="492.21" cy="727.14" r="4.00" fill="#000"/>
<circle cx="520.82" cy="739.71" r="4.00" fill="#000"/>
<circle cx="549.43" cy="761.71" r="4.00" fill="#000"/>
<circle cx="578.04" cy="749.14" r="4.00" fill="#000"/>
<circle cx="606.65" cy="761.09" r="4.00" fill="#000"/>
<circle cx="635.26" cy="735.94" r="4.00" fill="#000"/>
<circle cx="663.87" cy="666.80" r="4.00" fill="#000"/>
<circle cx="692.48" cy="777.43" r="4.00" fill="#000"/>
<circle cx="721.09" cy="711.11" r="4.00" fill="#000"/>
<circle cx="749.70" cy="726.83" r="4.00" fill="#000"/>
<text x="441.30" y="838.80" text-anchor="end" class="tk">0</text>
<text x="441.30" y="807.37" text-anchor="end" class="tk">1</text>
<text x="441.30" y="775.94" text-anchor="end" class="tk">2</text>
<text x="441.30" y="744.51" text-anchor="end" class="tk">3</text>
<text x="441.30" y="713.09" text-anchor="end" class="tk">4</text>
<text x="441.30" y="681.66" text-anchor="end" class="tk">5</text>
<text x="441.30" y="650.23" text-anchor="end" class="tk">6</text>
<text x="441.30" y="618.80" text-anchor="end" class="tk">7</text>
<text x="463.60" y="854.80" text-anchor="middle" class="tk">0</text>
<text x="492.21" y="854.80" text-anchor="middle" class="tk">1</text>
<text x="520.82" y="854.80" text-anchor="middle" class="tk">2</text>
<text x="549.43" y="854.80" text-anchor="middle" class="tk">3</text>
<text x="578.04" y="854.80" text-anchor="middle" class="tk">4</text>
<text x="606.65" y="854.80" text-anchor="middle" class="tk">5</text>
<text x="635.26" y="854.80" text-anchor="middle" class="tk">6</text>
<text x="663.87" y="854.80" text-anchor="middle" class="tk">7</text>
<text x="692.48" y="854.80" text-anchor="middle" class="tk">8</text>
<text x="721.09" y="854.80" text-anchor="middle" class="tk">9</text>
<text x="749.70" y="851.70" text-anchor="middle" class="tk">10</text>
<text x="610.45" y="878.00" text-anchor="middle" class="tt">Storage at room temperature (d)</text>
<text transform="translate(421.00,727.00) rotate(-90)" text-anchor="middle" class="tt">CO<tspan baseline-shift="sub" font-size="12">2</tspan> amount&#160; (x10<tspan baseline-shift="super" font-size="12">-4</tspan> mg kg<tspan baseline-shift="super" font-size="12">-1</tspan> s<tspan baseline-shift="super" font-size="12">-1</tspan>)</text>
<line x1="65.00" y1="904.30" x2="83.80" y2="904.30" stroke="#000" stroke-width="1.4"/>
<path d="M74.40,901.30 L77.40,904.30 L74.40,907.30 L71.40,904.30 Z" fill="none" stroke="#000" stroke-width="1"/>
<text x="85.80" y="908.60" class="lg">A100</text>
<line x1="143.00" y1="904.30" x2="161.00" y2="904.30" stroke="#000" stroke-width="1.4"/>
<path d="M152.00,901.30 L155.00,904.30 L152.00,907.30 L149.00,904.30 Z" fill="#000"/>
<text x="163.00" y="908.60" class="lg">A90Ch10</text>
<line x1="248.50" y1="904.30" x2="267.00" y2="904.30" stroke="#000" stroke-width="1.4"/>
<path d="M257.75,900.80 L260.75,907.80 L254.75,907.80 Z" fill="#000"/>
<text x="268.80" y="908.60" class="lg">A80Ch20-15</text>
<line x1="374.40" y1="904.30" x2="393.20" y2="904.30" stroke="#000" stroke-width="1.4"/>
<rect x="380.80" y="901.30" width="6.00" height="6.00" fill="#000"/>
<text x="394.40" y="908.60" class="lg">A60Ch40-15</text>
<line x1="499.80" y1="904.30" x2="519.00" y2="904.30" stroke="#000" stroke-width="1.4"/>
<rect x="506.90" y="901.80" width="5.00" height="5.00" fill="none" stroke="#000" stroke-width="1"/>
<text x="521.00" y="908.60" class="lg">Mancozeb®</text>
<line x1="622.00" y1="904.30" x2="640.80" y2="904.30" stroke="#000" stroke-width="1.4"/>
<circle cx="631.40" cy="904.30" r="3.00" fill="#000"/>
<text x="643.50" y="908.60" class="lg">Uncoated</text>
</svg>
</body></html>
